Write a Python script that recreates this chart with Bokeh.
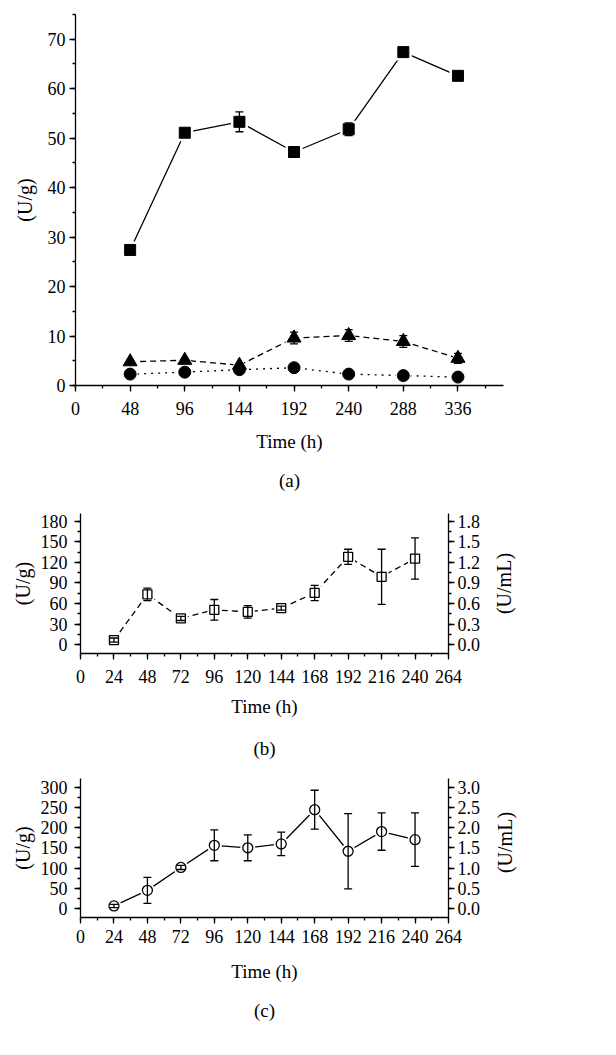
import math
from bokeh.plotting import figure
from bokeh.models import (Range1d, LinearAxis, FixedTicker, Whisker, TeeHead,
                          ColumnDataSource, Title, PrintfTickFormatter, Label)
from bokeh.embed import file_html
from bokeh.resources import INLINE

FONT = "Liberation Serif"

# ---------------- data (a) ----------------
a_time = [48, 96, 144, 192, 240, 288, 336]
a_square = [27.4, 51.1, 53.3, 47.2, 51.8, 67.4, 62.6]
a_square_err = [0.3, 0.3, 2.0, 0.3, 1.3, 0.3, 0.3]
a_triangle = [4.8, 5.1, 4.1, 9.6, 10.1, 8.9, 5.5]
a_triangle_err = [0.3, 0.3, 0.3, 1.2, 1.2, 1.2, 1.0]
a_circle = [2.3, 2.7, 3.2, 3.6, 2.3, 2.0, 1.7]
a_xticks = [0, 48, 96, 144, 192, 240, 288, 336]
a_yticks = [0, 10, 20, 30, 40, 50, 60, 70]

# ---------------- data (b) ----------------
b_time = [24, 48, 72, 96, 120, 144, 168, 192, 216, 240]
b_value = [7, 73.5, 38.5, 51, 48, 53.5, 75.5, 128, 99, 125.5]
b_err = [3, 9, 3, 15, 9, 3, 11, 11, 40, 30]
b_xticks = [0, 24, 48, 72, 96, 120, 144, 168, 192, 216, 240, 264]
b_yticks = [0, 30, 60, 90, 120, 150, 180]
b_rticks = [0.0, 0.3, 0.6, 0.9, 1.2, 1.5, 1.8]

# ---------------- data (c) ----------------
c_time = [24, 48, 72, 96, 120, 144, 168, 192, 216, 240]
c_value = [6.5, 45, 101.5, 156, 150, 159.5, 244, 141.5, 190, 170]
c_err = [4, 32, 5, 38, 32, 29, 48, 93, 46, 66]
c_xticks = [0, 24, 48, 72, 96, 120, 144, 168, 192, 216, 240, 264]
c_yticks = [0, 50, 100, 150, 200, 250, 300]
c_rticks = [0.0, 0.5, 1.0, 1.5, 2.0, 2.5, 3.0]


def minor(lo, hi, step):
    out = []
    v = lo
    while v <= hi + 1e-9:
        out.append(round(v, 6))
        v += step
    return out


def style_axis(ax, tick_size="18px", label_size="19px"):
    ax.axis_line_color = "black"
    ax.axis_line_width = 1.3
    ax.major_tick_line_color = "black"
    ax.major_tick_line_width = 1.3
    ax.minor_tick_line_color = "black"
    ax.minor_tick_line_width = 1.3
    ax.major_tick_in = 0
    ax.major_tick_out = 6
    ax.minor_tick_in = 0
    ax.minor_tick_out = 3
    ax.major_label_text_font = FONT
    ax.major_label_text_font_size = tick_size
    ax.major_label_text_color = "black"
    ax.axis_label_text_font = FONT
    ax.axis_label_text_font_size = label_size
    ax.axis_label_text_font_style = "normal"
    ax.axis_label_text_color = "black"


def base_fig(w, h, xr, yr, bl, br, bt, bb):
    p = figure(width=w, height=h, x_range=Range1d(*xr), y_range=Range1d(*yr),
               output_backend="svg", toolbar_location=None,
               min_border_left=bl, min_border_right=br,
               min_border_top=bt, min_border_bottom=bb)
    p.grid.visible = False
    p.outline_line_color = None
    p.background_fill_color = "white"
    p.border_fill_color = "white"
    return p


def add_whisker(p, xs, ys, errs, level="annotation"):
    src = ColumnDataSource(dict(
        base=xs,
        upper=[y + e for y, e in zip(ys, errs)],
        lower=[y - e for y, e in zip(ys, errs)]))
    w = Whisker(base="base", upper="upper", lower="lower", source=src,
                line_color="black", line_width=1.3, level=level,
                upper_head=TeeHead(size=8, line_color="black", line_width=1.3),
                lower_head=TeeHead(size=8, line_color="black", line_width=1.3))
    p.add_layout(w)


def add_caption(p, text, standoff):
    t = Title(text=text, align="center", text_font=FONT,
              text_font_size="19px", text_font_style="normal",
              text_color="black", standoff=standoff)
    p.add_layout(t, "below")


def add_right_label(p, text, sx, sy):
    # label placed in the right side panel, reading bottom-to-top
    lab = Label(x=sx, y=sy, x_units="screen", y_units="screen", text=text,
                angle=math.pi / 2, text_align="center", text_baseline="middle",
                text_font=FONT, text_font_size="20px", text_color="black")
    p.add_layout(lab, "right")


# ================= Panel (a) =================
pa = base_fig(600, 510, (0, 376), (0, 75), 75, 97, 14, 125)
pa.xaxis.ticker = FixedTicker(ticks=a_xticks, minor_ticks=minor(0, 360, 24))
pa.yaxis.ticker = FixedTicker(ticks=a_yticks, minor_ticks=minor(0, 75, 5))
pa.xaxis.axis_label = "Time (h)"
pa.yaxis.axis_label = "(U/g)"
for ax in (pa.xaxis[0], pa.yaxis[0]):
    style_axis(ax)
pa.yaxis.axis_label_text_font_size = "20px"
pa.xaxis.major_label_standoff = 10
pa.xaxis.axis_label_standoff = 13
pa.yaxis.major_label_standoff = 4
pa.yaxis.axis_label_standoff = 9

pa.line(a_time, a_square, line_color="black", line_width=1.3)
pa.line(a_time, a_triangle, line_color="black", line_width=1.3, line_dash="6 4")
pa.line(a_time, a_circle, line_color="black", line_width=1.3, line_dash="2 5")
# white halos to give Origin-style gaps between line and symbol
pa.scatter(a_time, a_square, marker="square", size=17, fill_color="white", line_color=None)
pa.scatter(a_time, a_triangle, marker="triangle", size=18, fill_color="white", line_color=None)
pa.scatter(a_time, a_circle, marker="circle", size=15, fill_color="white", line_color=None)
pa.scatter(a_time, a_square, marker="square", size=11, fill_color="black", line_color="black")
pa.scatter(a_time, a_triangle, marker="triangle", size=14, fill_color="black", line_color="black")
pa.scatter(a_time, a_circle, marker="circle", size=12, fill_color="black", line_color="black")
add_whisker(pa, a_time, a_square, a_square_err)
add_whisker(pa, a_time, a_triangle, a_triangle_err)
add_caption(pa, "(a)", 27)

# ================= Panel (b) =================
b_yr = (-12.5, 191)
pb = base_fig(600, 265, (0, 264), b_yr, 80, 152, 3, 122)
pb.extra_y_ranges = {"r": Range1d(b_yr[0] / 100, b_yr[1] / 100)}
pb.add_layout(LinearAxis(y_range_name="r"), "right")
pb.xaxis.ticker = FixedTicker(ticks=b_xticks, minor_ticks=minor(0, 264, 12))
pb.yaxis[0].ticker = FixedTicker(ticks=b_yticks, minor_ticks=minor(0, 180, 15))
pb.yaxis[1].ticker = FixedTicker(ticks=b_rticks, minor_ticks=minor(0, 1.8, 0.15))
pb.yaxis[1].formatter = PrintfTickFormatter(format="%.1f")
pb.xaxis.axis_label = "Time (h)"
pb.yaxis[0].axis_label = "(U/g)"
for ax in (pb.xaxis[0], pb.yaxis[0], pb.yaxis[1]):
    style_axis(ax)
pb.yaxis.axis_label_text_font_size = "20px"
pb.xaxis.major_label_standoff = 10
pb.xaxis.axis_label_standoff = 10
pb.yaxis[0].major_label_standoff = 7
pb.yaxis[0].axis_label_standoff = 4
pb.yaxis[1].major_label_standoff = 3
add_right_label(pb, "(U/mL)", 20, 70)

pb.line(b_time, b_value, line_color="black", line_width=1.3, line_dash="6 4")
pb.scatter(b_time, b_value, marker="square", size=14, fill_color="white", line_color=None)
pb.scatter(b_time, b_value, marker="square", size=9, fill_color="white", line_color="black", line_width=1.3)
add_whisker(pb, b_time, b_value, b_err)
add_caption(pb, "(b)", 33)

# ================= Panel (c) =================
c_yr = (-22, 321)
pc = base_fig(600, 265, (0, 264), c_yr, 80, 152, 3, 123)
pc.extra_y_ranges = {"r": Range1d(c_yr[0] / 100, c_yr[1] / 100)}
pc.add_layout(LinearAxis(y_range_name="r"), "right")
pc.xaxis.ticker = FixedTicker(ticks=c_xticks, minor_ticks=minor(0, 264, 12))
pc.yaxis[0].ticker = FixedTicker(ticks=c_yticks, minor_ticks=minor(0, 300, 25))
pc.yaxis[1].ticker = FixedTicker(ticks=c_rticks, minor_ticks=minor(0, 3.0, 0.25))
pc.yaxis[1].formatter = PrintfTickFormatter(format="%.1f")
pc.xaxis.axis_label = "Time (h)"
pc.yaxis[0].axis_label = "(U/g)"
for ax in (pc.xaxis[0], pc.yaxis[0], pc.yaxis[1]):
    style_axis(ax)
pc.yaxis.axis_label_text_font_size = "20px"
pc.xaxis.major_label_standoff = 6
pc.xaxis.axis_label_standoff = 15
pc.yaxis[0].major_label_standoff = 7
pc.yaxis[0].axis_label_standoff = 4
pc.yaxis[1].major_label_standoff = 3
add_right_label(pc, "(U/mL)", 21, 75)

pc.line(c_time, c_value, line_color="black", line_width=1.3)
pc.scatter(c_time, c_value, marker="circle", size=15, fill_color="white", line_color=None)
pc.scatter(c_time, c_value, marker="circle", size=10, fill_color="white", line_color="black", line_width=1.3)
add_whisker(pc, c_time, c_value, c_err)
add_caption(pc, "(c)", 26)

open("out.html", "w").write(file_html([pa, pb, pc], INLINE))
